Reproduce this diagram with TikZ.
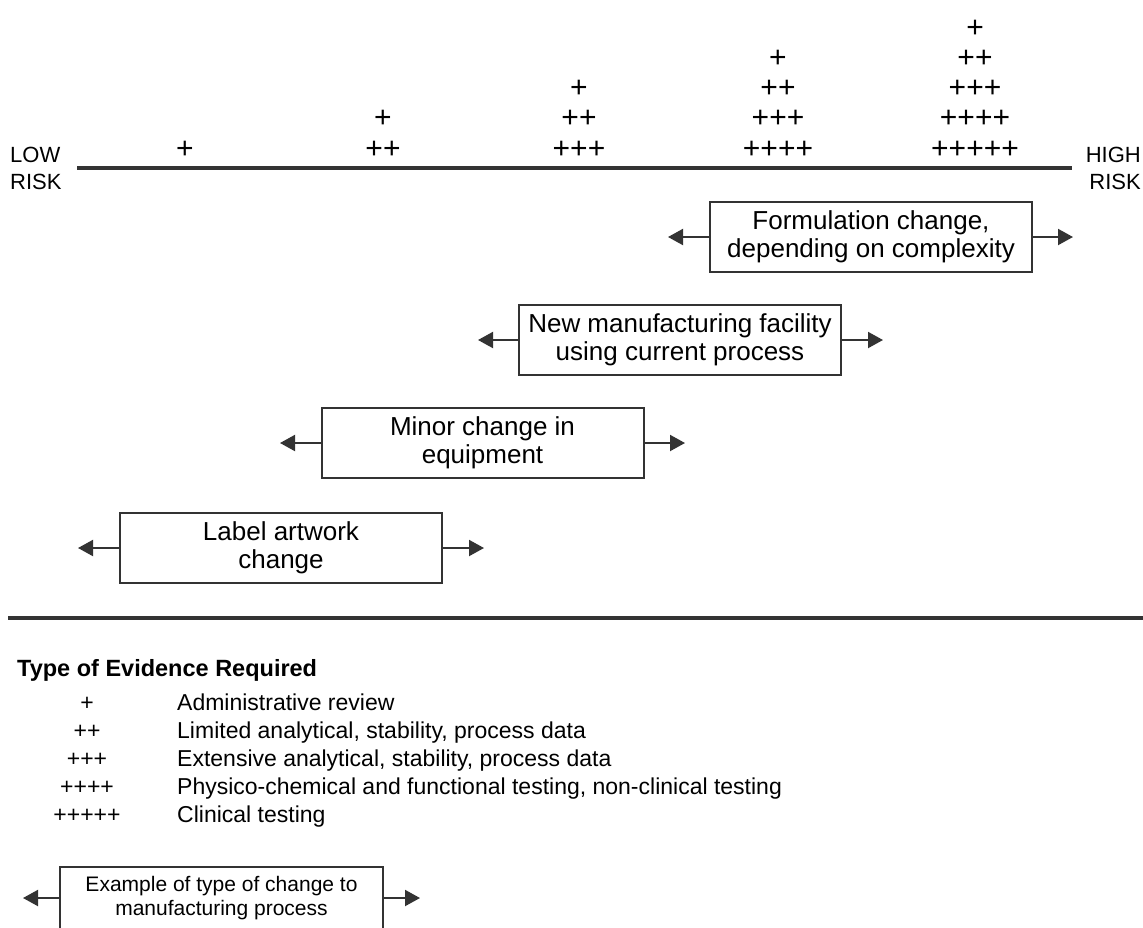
\documentclass[tikz,border=0pt]{standalone}
\usepackage{fontspec}
\setmainfont{Liberation Sans}
\usetikzlibrary{arrows.meta}
\definecolor{linegray}{HTML}{333333}
\begin{document}
\begin{tikzpicture}[x=1pt,y=-1pt,
  risk/.style={font=\fontsize{22}{27}\selectfont, inner sep=0pt},
  pl/.style={font=\fontsize{30}{30}\selectfont, inner sep=0pt, anchor=base},
  chg/.style={draw=linegray, line width=2pt, minimum width=322pt, minimum height=70pt, inner sep=0pt, align=center, font=\fontsize{26}{28}\selectfont},
  legbox/.style={draw=linegray, line width=2pt, minimum width=323pt, minimum height=62pt, inner sep=0pt, align=center, font=\fontsize{21}{23.5}\selectfont},
  arr/.style={draw=linegray, line width=2pt, -{Triangle[length=15pt,width=16pt]}},
  heavy/.style={draw=linegray, line width=4pt},
  legsym/.style={font=\fontsize{23}{28}\selectfont, inner sep=0pt, anchor=base},
  legtxt/.style={font=\fontsize{23}{28}\selectfont, inner sep=0pt, anchor=base west},
  legtitle/.style={font=\fontsize{23.5}{28}\selectfont\bfseries, inner sep=0pt, anchor=base west}
]
\useasboundingbox (0,0) rectangle (1143,927);
\clip (0,0) rectangle (1143,927);

% risk axis
\coordinate (axL) at (77,168);
\coordinate (axR) at (1072,168);
\draw[heavy] (axL) -- (axR);
\node[risk, anchor=base west] (low1) at (10,162) {LOW};
\node[risk, anchor=base west] (low2) at (10,189) {RISK};
\node[risk, anchor=base east] (high1) at (1141,162) {HIGH};
\node[risk, anchor=base east] (high2) at (1141,189) {RISK};

% evidence columns
\node[pl] (c1r1) at (185,158) {+};

\node[pl] (c2r1) at (383,158) {++};
\node[pl] (c2r2) at (383,127.75) {+};

\node[pl] (c3r1) at (579,158) {+++};
\node[pl] (c3r2) at (579,127.75) {++};
\node[pl] (c3r3) at (579,97.5) {+};

\node[pl] (c4r1) at (778,158) {++++};
\node[pl] (c4r2) at (778,127.75) {+++};
\node[pl] (c4r3) at (778,97.5) {++};
\node[pl] (c4r4) at (778,67.25) {+};

\node[pl] (c5r1) at (975,158) {+++++};
\node[pl] (c5r2) at (975,127.75) {++++};
\node[pl] (c5r3) at (975,97.5) {+++};
\node[pl] (c5r4) at (975,67.25) {++};
\node[pl] (c5r5) at (975,37) {+};

% change boxes
\node[chg] (b1) at (871,237) {Formulation change,\\depending on complexity};
\coordinate (b1l) at (668,237);
\coordinate (b1r) at (1073,237);
\draw[arr] (b1.west) -- (b1l);
\draw[arr] (b1.east) -- (b1r);

\node[chg] (b2) at (680,340) {New manufacturing facility\\using current process};
\coordinate (b2l) at (478,340);
\coordinate (b2r) at (883,340);
\draw[arr] (b2.west) -- (b2l);
\draw[arr] (b2.east) -- (b2r);

\node[chg] (b3) at (482.5,443) {Minor change in\\equipment};
\coordinate (b3l) at (280,443);
\coordinate (b3r) at (685,443);
\draw[arr] (b3.west) -- (b3l);
\draw[arr] (b3.east) -- (b3r);

\node[chg] (b4) at (281,548) {Label artwork\\change};
\coordinate (b4l) at (78,548);
\coordinate (b4r) at (484,548);
\draw[arr] (b4.west) -- (b4l);
\draw[arr] (b4.east) -- (b4r);

% separator
\coordinate (sepL) at (8,618);
\coordinate (sepR) at (1143,618);
\draw[heavy] (sepL) -- (sepR);

% legend
\node[legtitle] (lt) at (17,676) {Type of Evidence Required};
\node[legsym] (s1) at (87,710) {+};
\node[legtxt] (d1) at (177,710) {Administrative review};
\node[legsym] (s2) at (87,738) {++};
\node[legtxt] (d2) at (177,738) {Limited analytical, stability, process data};
\node[legsym] (s3) at (87,766) {+++};
\node[legtxt] (d3) at (177,766) {Extensive analytical, stability, process data};
\node[legsym] (s4) at (87,794) {++++};
\node[legtxt] (d4) at (177,794) {Physico-chemical and functional testing, non-clinical testing};
\node[legsym] (s5) at (87,822) {+++++};
\node[legtxt] (d5) at (177,822) {Clinical testing};

\node[legbox] (lb) at (221.5,898) {Example of type of change to\\manufacturing process};
\coordinate (lbl) at (23,898);
\coordinate (lbr) at (420,898);
\draw[arr] (lb.west) -- (lbl);
\draw[arr] (lb.east) -- (lbr);
\end{tikzpicture}
\end{document}
